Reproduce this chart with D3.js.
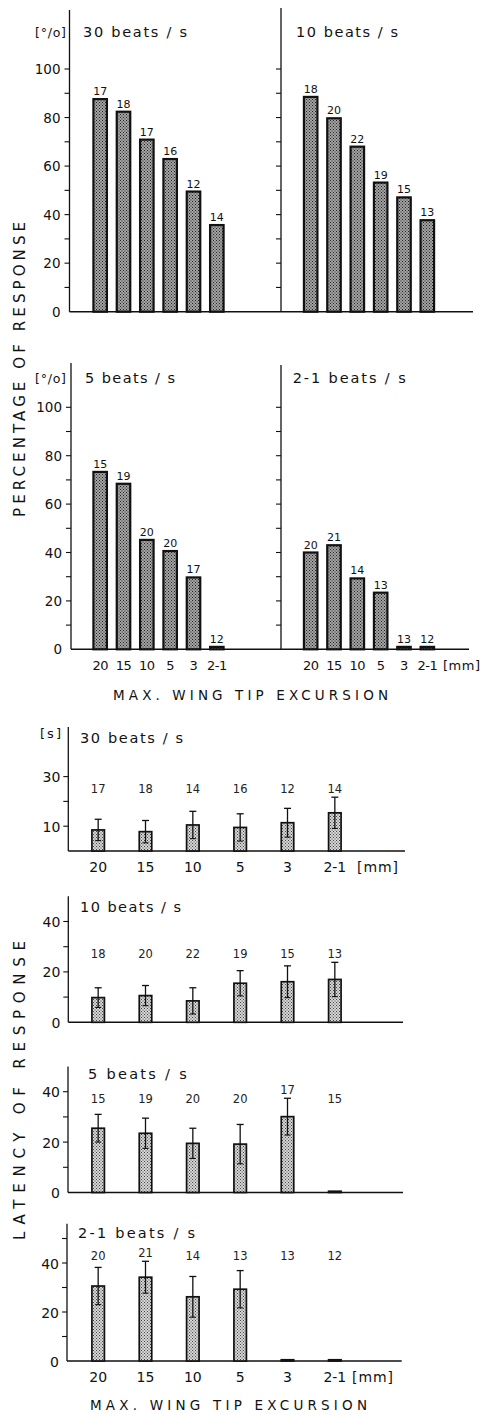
<!DOCTYPE html>
<html><head><meta charset="utf-8">
<script src="https://cdn.jsdelivr.net/npm/d3@7"></script>
<style>
html,body{margin:0;padding:0;background:#fff;}
svg{display:block;font-family:"DejaVu Sans",sans-serif;}
</style></head>
<body>
<script>
// ---------- DATA ----------
const excursion = ["20","15","10","5","3","2-1"];

const pct30 = [87.6, 82.4, 70.9, 62.9, 49.5, 35.7];
const nPct30 = [17, 18, 17, 16, 12, 14];
const pct10 = [88.5, 79.7, 68.0, 53.2, 47.1, 37.7];
const nPct10 = [18, 20, 22, 19, 15, 13];
const pct5 = [73.3, 68.4, 45.2, 40.6, 29.7, 1];
const nPct5 = [15, 19, 20, 20, 17, 12];
const pct21 = [40.0, 43.0, 29.3, 23.4, 1, 1];
const nPct21 = [20, 21, 14, 13, 13, 12];

const lat30 = [8.5, 7.8, 10.5, 9.5, 11.4, 15.4];
const sd30 = [4.3, 4.5, 5.5, 5.5, 5.8, 6.3];
const nLat30 = [17, 18, 14, 16, 12, 14];
const lat10 = [9.8, 10.6, 8.5, 15.5, 16.1, 17.0];
const sd10 = [3.9, 4.0, 5.2, 5.0, 6.3, 6.8];
const nLat10 = [18, 20, 22, 19, 15, 13];
const lat5 = [25.5, 23.5, 19.5, 19.2, 30.1, 0.5];
const sd5 = [5.5, 6.0, 6.0, 7.8, 7.3, 0];
const nLat5 = [15, 19, 20, 20, 17, 15];
const lat21 = [30.6, 34.2, 26.2, 29.3, 0.5, 0.5];
const sd21 = [7.6, 6.5, 8.3, 7.6, 0, 0];
const nLat21 = [20, 21, 14, 13, 13, 12];

const pctTicks = [0, 20, 40, 60, 80, 100];
const latTicks30 = [10, 30];
const latTicks = [0, 20, 40];

// ---------- SVG ----------
const W = 482, H = 1415;
const svg = d3.select("body").append("svg").attr("width", W).attr("height", H);
const defs = svg.append("defs");

function stipple(id, bg, dot) {
  const p = defs.append("pattern").attr("id", id).attr("patternUnits", "userSpaceOnUse")
    .attr("width", 3).attr("height", 3);
  p.append("rect").attr("width", 3).attr("height", 3).attr("fill", bg);
  p.append("rect").attr("x", 0).attr("y", 0).attr("width", 1).attr("height", 1).attr("fill", dot);
  p.append("rect").attr("x", 1.5).attr("y", 1.5).attr("width", 1).attr("height", 1).attr("fill", dot);
}
stipple("dotsDark", "#a4a4a4", "#222");
stipple("dotsLight", "#d6d6d6", "#444");

const ink = "#111";

function spacedText(g, x, y, str, len, size, anchor) {
  return g.append("text").attr("x", x).attr("y", y).text(str)
    .attr("font-size", size).attr("fill", ink)
    .attr("textLength", len).attr("lengthAdjust", "spacing")
    .attr("text-anchor", anchor || "start");
}

// ---------- Percentage panels ----------
function pctPanel(opt) {
  const g = svg.append("g");
  const y = d3.scaleLinear().domain([0, 100]).range([opt.y0, opt.y0 - 100 * opt.ppu]);
  const x = d3.scalePoint().domain(excursion).range(opt.xr).padding(0.5);
  const bw = 13.5;
  g.append("line").attr("x1", opt.ax).attr("x2", opt.ax).attr("y1", opt.top).attr("y2", opt.y0)
    .attr("stroke", ink).attr("stroke-width", 1.3);
  const tickVals = d3.range(10, 101, 10);
  g.selectAll(".tk").data(tickVals).join("line")
    .attr("x1", opt.ax - 5).attr("x2", opt.ax).attr("y1", d => y(d)).attr("y2", d => y(d))
    .attr("stroke", ink).attr("stroke-width", 1.1);
  if (opt.labels) {
    g.selectAll(".tl").data(pctTicks).join("text")
      .attr("x", opt.ax - 9).attr("y", d => y(d) + 5).attr("text-anchor", "end")
      .attr("font-size", 13.5).attr("fill", ink).text(d => d);
    spacedText(g, 35, opt.titleY, "[°/o]", 31, 12.5);
  }
  spacedText(g, opt.titleX, opt.titleY, opt.title, opt.titleLen, 14.5);
  g.selectAll(".bar").data(opt.vals).join("rect")
    .attr("x", (d, i) => x(excursion[i]) - bw / 2).attr("width", bw)
    .attr("y", d => y(d)).attr("height", d => opt.y0 - y(d))
    .attr("fill", "url(#dotsDark)").attr("stroke", ink).attr("stroke-width", 2.2);
  g.selectAll(".n").data(opt.ns).join("text")
    .attr("x", (d, i) => x(excursion[i])).attr("y", (d, i) => y(opt.vals[i]) - 4)
    .attr("text-anchor", "middle").attr("font-size", 11).attr("fill", ink).text(d => d);
  if (opt.xlab) {
    g.selectAll(".xl").data(excursion).join("text")
      .attr("x", d => x(d)).attr("y", opt.y0 + 21).attr("text-anchor", "middle")
      .attr("font-size", 13).attr("fill", ink).attr("letter-spacing", -0.5).text(d => d);
  }
  return {x, y};
}

function baseline(x1, x2, yv) {
  svg.append("line").attr("x1", x1).attr("x2", x2).attr("y1", yv).attr("y2", yv)
    .attr("stroke", ink).attr("stroke-width", 1.4);
}

baseline(69.5, 473, 311.7);
pctPanel({ax: 69.5, top: 10, y0: 311.7, ppu: 2.427, xr: [88.5, 228.5], vals: pct30, ns: nPct30,
  labels: true, title: "30 beats / s", titleX: 83, titleY: 36.5, titleLen: 104});
pctPanel({ax: 281, top: 8, y0: 311.7, ppu: 2.427, xr: [299, 439], vals: pct10, ns: nPct10,
  labels: false, title: "10 beats / s", titleX: 296, titleY: 36.5, titleLen: 102});
baseline(71, 469, 649.3);
pctPanel({ax: 71, top: 363, y0: 649.3, ppu: 2.42, xr: [88.5, 228.5], vals: pct5, ns: nPct5,
  labels: true, xlab: true, title: "5 beats / s", titleX: 85, titleY: 382.7, titleLen: 90});
pctPanel({ax: 281, top: 365, y0: 649.3, ppu: 2.42, xr: [299, 439], vals: pct21, ns: nPct21,
  labels: false, xlab: true, title: "2-1 beats / s", titleX: 292.7, titleY: 382.7, titleLen: 113});
svg.append("text").attr("x", 443).attr("y", 670.3).attr("font-size", 13).attr("fill", ink)
  .attr("textLength", 37).attr("lengthAdjust", "spacing").text("[mm]");
spacedText(svg, 113, 700, "MAX. WING TIP EXCURSION", 275, 13.5);

svg.append("text").attr("transform", "translate(24.5,369.5) rotate(-90)")
  .attr("text-anchor", "middle").attr("font-size", 15).attr("fill", ink)
  .attr("textLength", 295).attr("lengthAdjust", "spacing").text("PERCENTAGE OF RESPONSE");

// ---------- Latency panels ----------
function latPanel(opt) {
  const g = svg.append("g");
  const y = d3.scaleLinear().domain([0, opt.max]).range([opt.y0, opt.y0 - opt.max * opt.ppu]);
  const x = d3.scalePoint().domain(excursion).range([74.5, 358.5]).padding(0.5);
  const bw = 12.5;
  g.append("line").attr("x1", opt.ax).attr("x2", opt.ax).attr("y1", y(opt.max)).attr("y2", opt.y0)
    .attr("stroke", ink).attr("stroke-width", 1.3);
  g.append("line").attr("x1", opt.ax).attr("x2", opt.xEnd).attr("y1", opt.y0).attr("y2", opt.y0)
    .attr("stroke", ink).attr("stroke-width", 1.4);
  g.selectAll(".tk").data(opt.tickVals).join("line")
    .attr("x1", opt.ax - 5).attr("x2", opt.ax).attr("y1", d => y(d)).attr("y2", d => y(d))
    .attr("stroke", ink).attr("stroke-width", 1.1);
  g.selectAll(".tl").data(opt.tickLabels).join("text")
    .attr("x", opt.ax - 8).attr("y", d => y(d) + 5.5).attr("text-anchor", "end")
    .attr("font-size", 14).attr("fill", ink).text(d => d);
  spacedText(g, opt.titleX, opt.titleY, opt.title, opt.titleLen, 14.5);
  g.selectAll(".bar").data(opt.vals).join("rect")
    .attr("x", (d, i) => x(excursion[i]) - bw / 2).attr("width", bw)
    .attr("y", d => y(d)).attr("height", d => opt.y0 - y(d))
    .attr("fill", "url(#dotsLight)").attr("stroke", ink).attr("stroke-width", 1.7);
  const eb = opt.vals.map((v, i) => ({v, s: opt.sd[i], i})).filter(d => d.s > 0);
  g.selectAll(".ev").data(eb).join("line")
    .attr("x1", d => x(excursion[d.i])).attr("x2", d => x(excursion[d.i]))
    .attr("y1", d => y(d.v + d.s)).attr("y2", d => y(d.v - d.s))
    .attr("stroke", ink).attr("stroke-width", 1.3);
  g.selectAll(".ct").data(eb).join("line")
    .attr("x1", d => x(excursion[d.i]) - 3.5).attr("x2", d => x(excursion[d.i]) + 3.5)
    .attr("y1", d => y(d.v + d.s)).attr("y2", d => y(d.v + d.s))
    .attr("stroke", ink).attr("stroke-width", 1.3);
  g.selectAll(".cb").data(eb).join("line")
    .attr("x1", d => x(excursion[d.i]) - 3).attr("x2", d => x(excursion[d.i]) + 3)
    .attr("y1", d => y(d.v - d.s)).attr("y2", d => y(d.v - d.s))
    .attr("stroke", ink).attr("stroke-width", 1.1);
  g.selectAll(".n").data(opt.ns).join("text")
    .attr("x", (d, i) => x(excursion[i]))
    .attr("y", (d, i) => Math.min(opt.nY, y(opt.vals[i] + opt.sd[i]) - 4))
    .attr("text-anchor", "middle").attr("font-size", 11.5).attr("fill", "#222").text(d => d);
  if (opt.xlabY) {
    g.selectAll(".xl").data(excursion).join("text")
      .attr("x", d => x(d)).attr("y", opt.xlabY).attr("text-anchor", "middle")
      .attr("font-size", 14).attr("fill", ink).text(d => d);
    g.append("text").attr("x", opt.mmX).attr("y", opt.xlabY).attr("font-size", 14).attr("fill", ink)
      .attr("textLength", 41).attr("lengthAdjust", "spacing").text("[mm]");
  }
  return g;
}

const g1 = latPanel({ax: 68.3, xEnd: 405, y0: 851, ppu: 2.48, max: 50, vals: lat30, sd: sd30, ns: nLat30,
  tickVals: [10, 20, 30], tickLabels: latTicks30, title: "30 beats / s", titleX: 80, titleY: 743, titleLen: 103,
  nY: 793, xlabY: 871.7, mmX: 357});
spacedText(g1, 40, 738, "[s]", 21, 13);
latPanel({ax: 68.3, xEnd: 403, y0: 1022.3, ppu: 2.52, max: 50, vals: lat10, sd: sd10, ns: nLat10,
  tickVals: [10, 20, 30, 40], tickLabels: latTicks, title: "10 beats / s", titleX: 80, titleY: 911.7, titleLen: 101,
  nY: 958});
latPanel({ax: 68, xEnd: 403, y0: 1192.5, ppu: 2.52, max: 50, vals: lat5, sd: sd5, ns: nLat5,
  tickVals: [10, 20, 30, 40], tickLabels: latTicks, title: "5 beats / s", titleX: 88, titleY: 1079.3, titleLen: 98.7,
  nY: 1102.7});
latPanel({ax: 67, xEnd: 401.7, y0: 1361, ppu: 2.45, max: 56, vals: lat21, sd: sd21, ns: nLat21,
  tickVals: [10, 20, 30, 40, 50], tickLabels: latTicks, title: "2-1 beats / s", titleX: 78, titleY: 1238.3, titleLen: 117,
  nY: 1260, xlabY: 1381.7, mmX: 352});
spacedText(svg, 90, 1410, "MAX. WING TIP EXCURSION", 277, 13.5);

svg.append("text").attr("transform", "translate(24.5,1090.5) rotate(-90)")
  .attr("text-anchor", "middle").attr("font-size", 15).attr("fill", ink)
  .attr("textLength", 299).attr("lengthAdjust", "spacing").text("LATENCY OF RESPONSE");
</script>
</body></html>
